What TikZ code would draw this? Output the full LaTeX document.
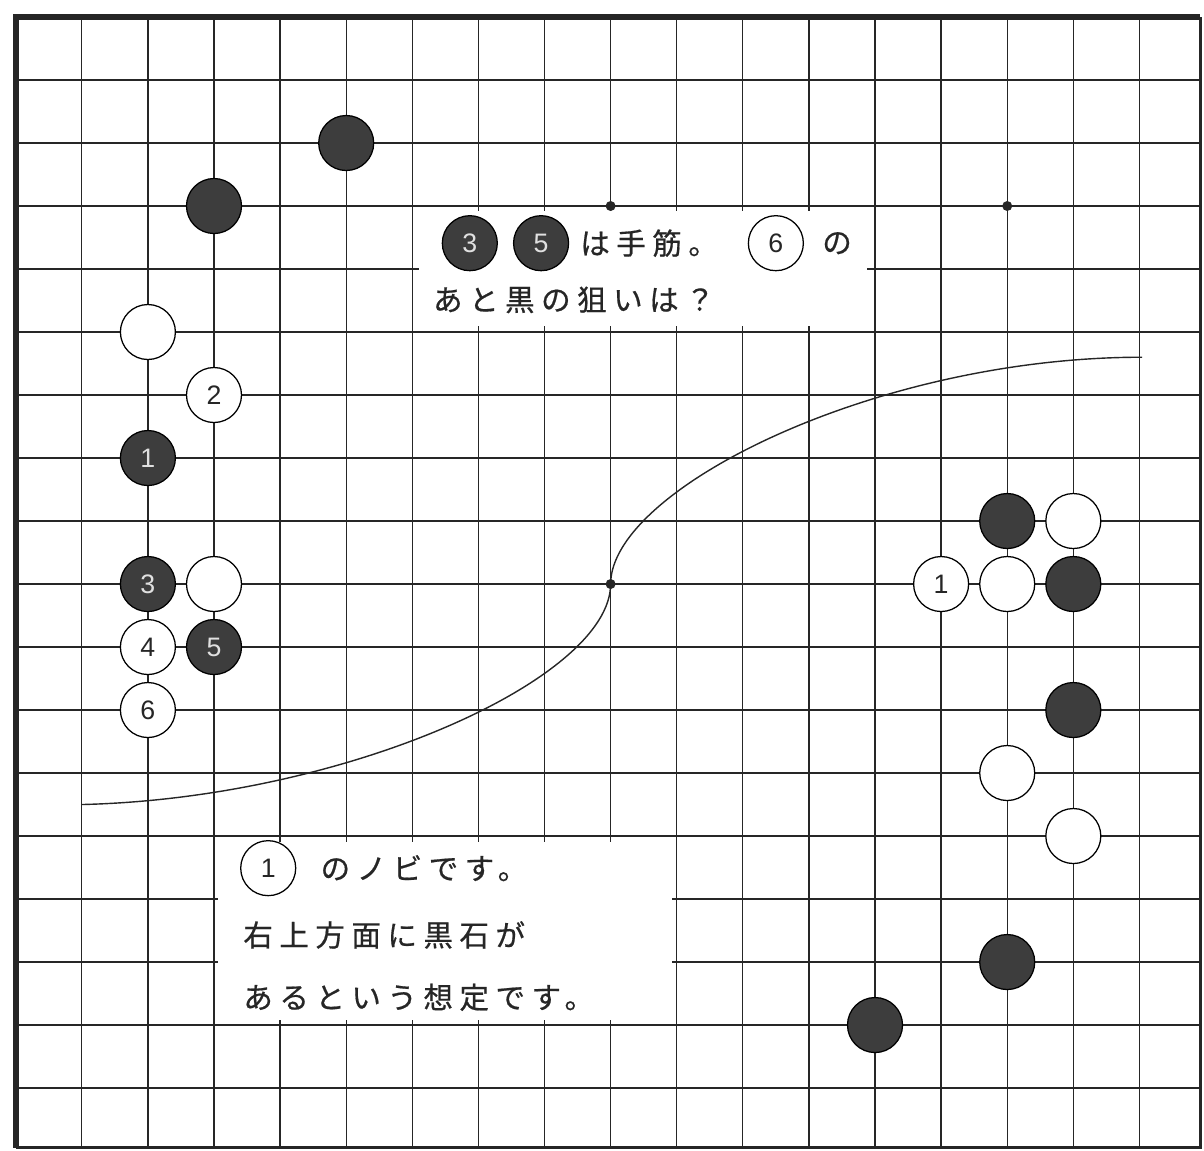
\documentclass[tikz,border=0pt]{standalone}
\usepackage{fontspec}
\newfontfamily\jpfont{Noto Sans CJK JP}[LetterSpace=22, FakeBold=0.6]
\newfontfamily\numfont{Liberation Sans}
\usetikzlibrary{positioning}
\definecolor{ink}{HTML}{262626}
\definecolor{stonegray}{HTML}{3D3D3D}
\tikzstyle{gridline} = [draw=ink, line width=0.95pt]
\tikzstyle{edge} = [draw=ink, line width=4pt]
\tikzstyle{stone} = [circle, minimum size=1.375cm, inner sep=0pt, line width=0.9pt, font=\numfont\fontsize{19}{19}\selectfont]
\tikzstyle{bstone} = [stone, draw=black, fill=stonegray, text=white!88!black]
\tikzstyle{wstone} = [stone, draw=black, fill=white, text=ink]
\tikzstyle{hoshi} = [circle, fill=ink, inner sep=0pt, minimum size=0.25cm]
\tikzstyle{jtext} = [inner sep=0pt, text=ink, font=\jpfont\fontsize{21}{24}\selectfont]
\tikzstyle{textbox} = [fill=white]

\begin{document}
\begin{tikzpicture}[x=1.6525cm, y=-1.575cm]
	\useasboundingbox (-0.2375,-0.27) rectangle (17.977,17.984);
	\foreach \i in {1,...,17} \draw[gridline] (\i,0) -- (\i,17.95);
	\foreach \j in {1,...,17} \draw[gridline] (0,\j) -- (17.92,\j);
	\draw[ink, line width=2pt] (0,17.95) -- (17.92,17.95) -- (17.92,0);
	\draw[edge] (0,17.95) -- (0,0) -- (17.92,0);
	\fill[textbox] (6.1,3.08) rectangle (12.88,4.9);
	\fill[textbox] (3.06,13.1) rectangle (9.93,15.92);

	\coordinate (curveL) at (1,12.5);
	\coordinate (tengen) at (9,9);
	\coordinate (curveR) at (17.04,5.4);
	\draw[ink, line width=1pt] (curveL) .. controls (5,12.4) and (9,10.5) .. (tengen) .. controls (9,7.5) and (13,5.4) .. (curveR);

	\foreach \c/\r [count=\k] in {9/3, 15/3, 9/9}
		\node[hoshi] (hoshi\k) at (\c,\r) {};
	\foreach \c/\r/\lab [count=\k] in {5/2/, 3/3/, 2/7/1, 2/9/3, 3/10/5, 15/8/, 16/9/, 16/11/, 15/15/, 13/16/}
		\node[bstone] (black\k) at (\c,\r) {\lab};
	\foreach \c/\r/\lab [count=\k] in {2/5/, 3/6/2, 3/9/, 2/10/4, 2/11/6, 16/8/, 14/9/1, 15/9/, 15/12/, 16/13/}
		\node[wstone] (white\k) at (\c,\r) {\lab};

	\node[bstone] (tsuji3) at (6.87,3.59) {3};
	\node[bstone, right=0.375cm of tsuji3] (tsuji5) {5};
	\node[jtext, right=0.27cm of tsuji5] (tesuji) {は手筋。};
	\node[wstone] (ato6) at (11.5,3.59) {6};
	\node[jtext, right=0.45cm of ato6] (no) {の};
	\node[jtext, anchor=west] (nerai) at (6.31,4.49) {あと黒の狙いは？};

	\node[wstone] (nobi1) at (3.82,13.51) {1};
	\node[jtext, right=0.6cm of nobi1] (nobi) {のノビです。};
	\node[jtext, anchor=west] (houmen) at (3.44,14.57) {右上方面に黒石が};
	\node[jtext, anchor=west] (soutei) at (3.44,15.56) {あるという想定です。};
\end{tikzpicture}
\end{document}
